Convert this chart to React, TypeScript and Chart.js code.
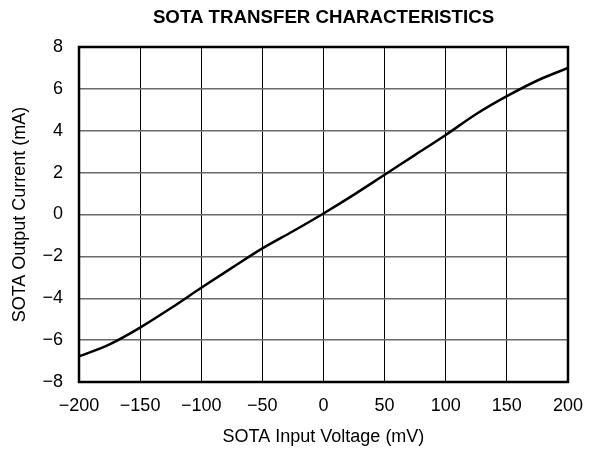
import React, { useEffect, useRef } from 'react';
import { Chart, registerables } from 'chart.js';

Chart.register(...registerables);

const chartTitle = 'SOTA TRANSFER CHARACTERISTICS';
const xAxisTitle = 'SOTA Input Voltage (mV)';
const yAxisTitle = 'SOTA Output Current (mA)';
const inputVoltage = [-200, -175, -150, -125, -100, -75, -50, -25, 0, 25, 50, 75, 100, 125, 150, 175, 200];
const outputCurrent = [-6.78, -6.2, -5.4, -4.48, -3.5, -2.55, -1.62, -0.8, 0.05, 0.95, 1.9, 2.85, 3.8, 4.8, 5.65, 6.4, 7.0];
const xMin = -200, xMax = 200, xStep = 50;
const yMin = -8, yMax = 8, yStep = 2;

const fontFamily = '"Liberation Sans", Arial, Helvetica, sans-serif';

const fmt = (v: number) => (v < 0 ? '\u2212' + Math.abs(v) : String(v));

const framePlugin = {
  id: 'frameAndTitle',
  afterDraw(chart: any) {
    const { ctx, chartArea } = chart;
    const { left, top, right, bottom } = chartArea;
    ctx.save();
    ctx.strokeStyle = '#000';
    ctx.lineWidth = 2.5;
    ctx.strokeRect(left, top, right - left, bottom - top);
    ctx.fillStyle = '#000';
    ctx.font = `bold 18.7px ${fontFamily}`;
    ctx.textAlign = 'center';
    ctx.textBaseline = 'middle';
    ctx.fillText(chartTitle, (left + right) / 2, 18);
    ctx.restore();
  },
};

export default function App() {
  const canvasRef = useRef<HTMLCanvasElement | null>(null);

  useEffect(() => {
    document.body.style.margin = '0';
    const canvas = canvasRef.current;
    if (!canvas) return;
    const chart = new Chart(canvas, {
      type: 'line',
      data: {
        datasets: [
          {
            data: inputVoltage.map((x, i) => ({ x, y: outputCurrent[i] })),
            borderColor: '#000',
            borderWidth: 2.5,
            pointRadius: 0,
            cubicInterpolationMode: 'monotone',
            fill: false,
          },
        ],
      },
      options: {
        animation: false,
        responsive: false,
        maintainAspectRatio: false,
        layout: { padding: { left: 0, right: 27, top: 47, bottom: 0 } },
        plugins: {
          legend: { display: false },
          title: { display: false },
          tooltip: { enabled: false },
        },
        scales: {
          x: {
            type: 'linear',
            min: xMin,
            max: xMax,
            afterFit: (s: any) => { s.height = 69; },
            ticks: {
              stepSize: xStep,
              padding: 13,
              color: '#000',
              font: { family: fontFamily, size: 18 },
              callback: (v: any) => fmt(Number(v)),
              maxRotation: 0,
            },
            grid: { color: '#000', lineWidth: 1, drawTicks: false },
            border: { display: false },
            title: {
              display: true,
              text: xAxisTitle,
              color: '#000',
              font: { family: fontFamily, size: 18 },
              padding: { top: 0, bottom: 3 },
            },
          },
          y: {
            type: 'linear',
            min: yMin,
            max: yMax,
            afterFit: (s: any) => { s.width = 79; },
            ticks: {
              stepSize: yStep,
              padding: 16,
              color: '#000',
              font: { family: fontFamily, size: 18 },
              callback: (v: any) => fmt(Number(v)),
            },
            grid: { color: '#6a6a6a', lineWidth: 1.5, drawTicks: false },
            border: { display: false },
            title: {
              display: true,
              text: yAxisTitle,
              color: '#000',
              font: { family: fontFamily, size: 18 },
              padding: { top: 9, bottom: 0 },
            },
          },
        },
      },
      plugins: [framePlugin],
    });
    return () => chart.destroy();
  }, []);

  return <canvas ref={canvasRef} width={596} height={451} style={{ display: 'block', width: 596, height: 451 }} />;
}
